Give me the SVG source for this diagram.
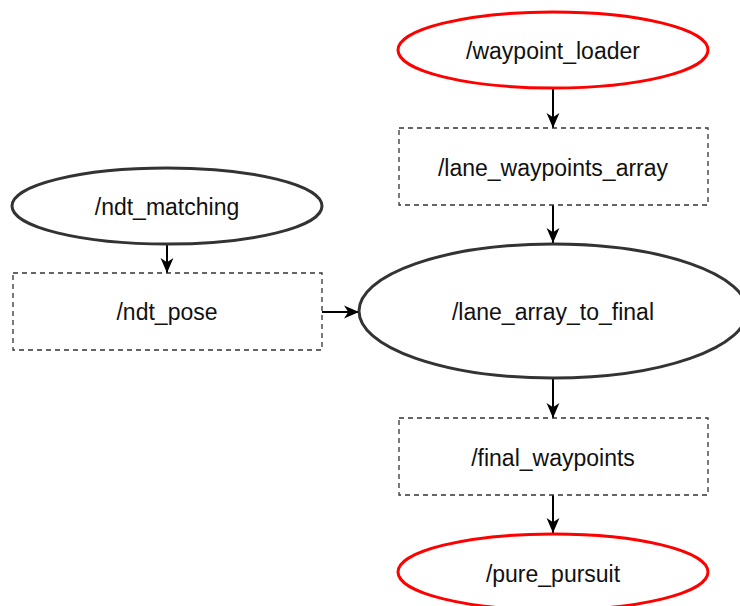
<svg xmlns="http://www.w3.org/2000/svg" width="740" height="606" viewBox="0 0 740 606">
<style>
.node-red{fill:#fff;stroke:#ff0000;stroke-width:3}
.node-dark{fill:#fff;stroke:#333;stroke-width:3}
.topic{fill:#fff;stroke:#333;stroke-width:1.3;stroke-dasharray:5 4}
.lbl{font-family:"Liberation Sans",Arial,sans-serif;font-size:23px;fill:#111;text-anchor:middle;dominant-baseline:central}
.edge{stroke:#000;stroke-width:2;fill:none}
</style>
<defs>
<marker id="arr" viewBox="0 0 14 14" refX="14" refY="7" markerWidth="15" markerHeight="15" markerUnits="userSpaceOnUse" orient="auto">
<path d="M0,1 L14,7 L0,13 L4,7 Z" fill="#000"/>
</marker>
</defs>
<rect width="740" height="606" fill="#fff"/>
<g id="connectors">
<line class="edge" x1="553" y1="89" x2="553" y2="128" marker-end="url(#arr)"/>
<line class="edge" x1="553" y1="205" x2="553" y2="243" marker-end="url(#arr)"/>
<line class="edge" x1="167" y1="245" x2="167" y2="273" marker-end="url(#arr)"/>
<line class="edge" x1="322" y1="312" x2="359" y2="312" marker-end="url(#arr)"/>
<line class="edge" x1="553" y1="379" x2="553" y2="418" marker-end="url(#arr)"/>
<line class="edge" x1="553" y1="495" x2="553" y2="533" marker-end="url(#arr)"/>
</g>
<g id="waypoint_loader">
<ellipse class="node-red" cx="553" cy="50" rx="155" ry="38"/>
<text class="lbl" x="553" y="51">/waypoint_loader</text>
</g>
<g id="lane_waypoints_array">
<rect class="topic" x="399" y="128" width="309" height="77"/>
<text class="lbl" x="553" y="168">/lane_waypoints_array</text>
</g>
<g id="ndt_matching">
<ellipse class="node-dark" cx="167" cy="206" rx="155" ry="38"/>
<text class="lbl" x="167" y="207">/ndt_matching</text>
</g>
<g id="ndt_pose">
<rect class="topic" x="13" y="273" width="309" height="77"/>
<text class="lbl" x="167" y="312">/ndt_pose</text>
</g>
<g id="lane_array_to_final">
<ellipse class="node-dark" cx="553" cy="311" rx="194" ry="67"/>
<text class="lbl" x="553" y="312">/lane_array_to_final</text>
</g>
<g id="final_waypoints">
<rect class="topic" x="399" y="418" width="309" height="77"/>
<text class="lbl" x="553" y="458">/final_waypoints</text>
</g>
<g id="pure_pursuit">
<ellipse class="node-red" cx="553" cy="572" rx="155" ry="38"/>
<text class="lbl" x="553" y="574">/pure_pursuit</text>
</g>
</svg>
